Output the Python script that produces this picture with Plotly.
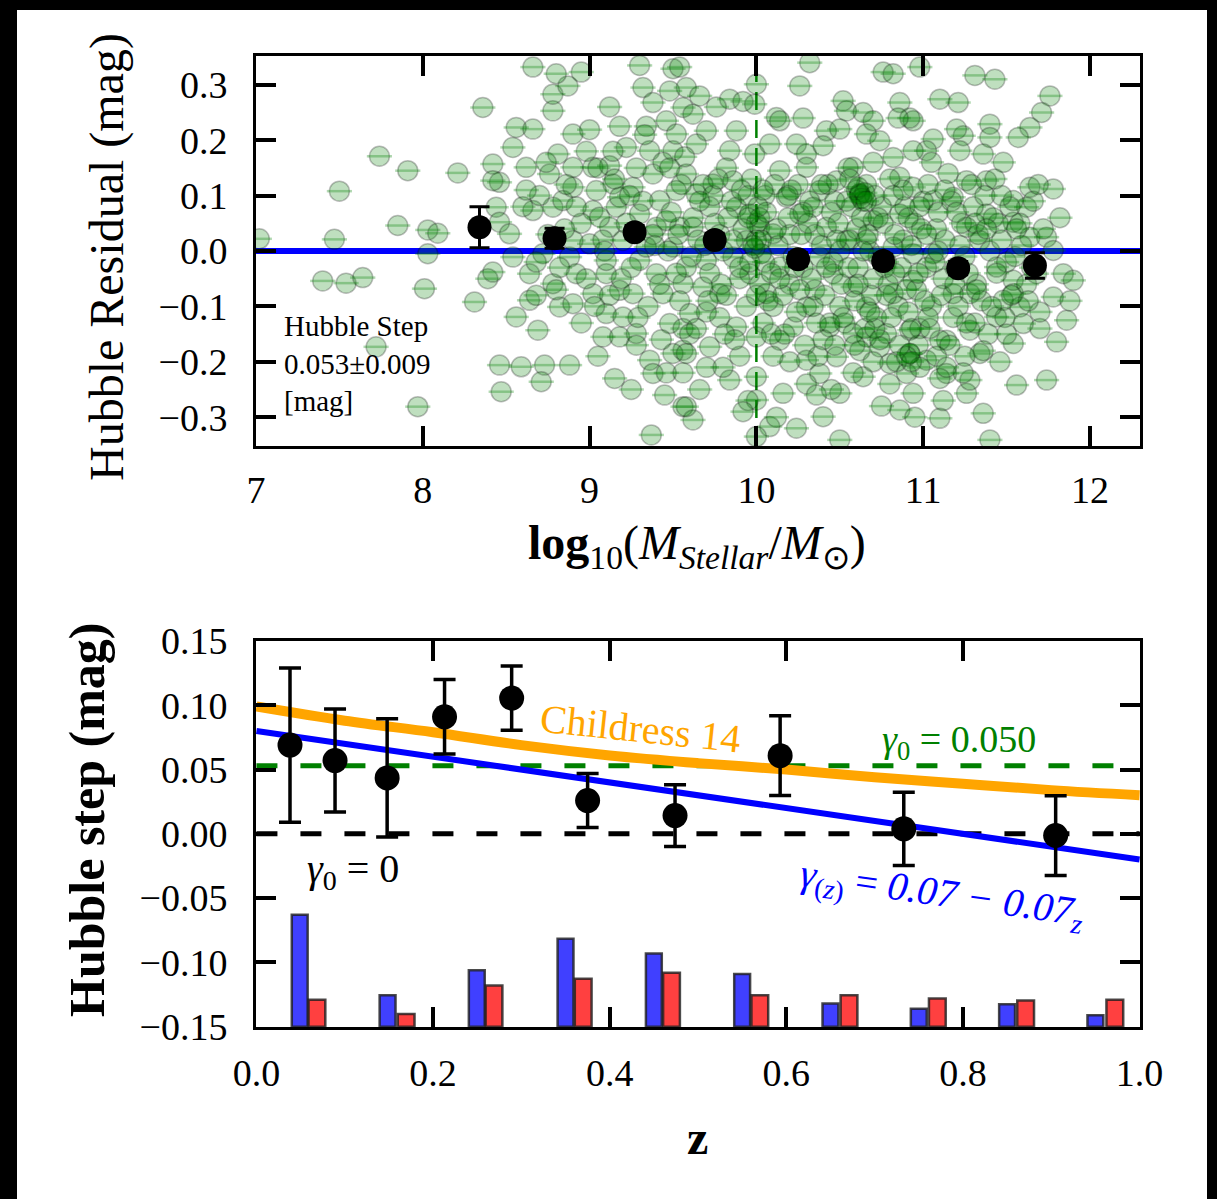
import plotly.graph_objects as go

W, H = 1217, 1199

# ---------------- top panel data: galaxy stellar mass vs Hubble residual ----------------
mass = [
    7.02, 7.50, 7.74, 7.91, 8.21, 8.36, 7.47, 7.85, 8.03, 8.09,
    8.03, 7.40, 7.54, 7.64, 8.01, 8.31, 8.39, 8.42, 8.42, 8.46,
    8.42, 8.44, 8.46, 8.52, 8.54, 8.56, 8.66, 8.54, 8.62, 8.76,
    8.66, 8.78, 8.84, 8.90, 8.81, 8.90, 9.00, 9.18, 9.34, 9.46,
    8.78, 8.78, 8.87, 8.80, 8.95, 8.66, 9.30, 9.32, 9.38, 9.48,
    9.50, 9.12, 9.02, 9.14, 9.38, 9.26, 8.64, 8.56, 8.69, 8.82,
    8.90, 8.78, 8.88, 8.72, 8.64, 8.46, 8.59, 8.73, 8.88, 8.71,
    8.47, 7.97, 7.72, 9.08, 9.18, 9.28, 9.36, 9.38, 9.37, 9.56,
    9.56, 9.10, 9.20, 9.18, 9.10, 9.30, 9.00, 9.12, 9.02, 9.16,
    9.30, 9.42, 9.52, 9.54, 9.50, 9.56, 9.44, 9.48, 8.90, 9.06,
    9.20, 9.40, 9.40, 9.26, 9.02, 8.92, 9.10, 9.34, 9.46, 9.18,
    9.04, 8.90, 9.36, 9.22, 9.50, 9.52, 9.56, 9.28, 9.50, 9.46,
    9.56, 9.54, 9.56,
    9.54, 9.58, 9.84, 9.92, 10.00, 9.99, 10.26, 10.32, 10.12, 10.14,
    10.08, 9.88, 9.70, 9.62, 9.64, 9.84, 9.99, 10.24, 10.30, 10.42,
    10.52, 10.54, 10.64, 10.70, 10.76, 10.82, 10.86, 10.94, 10.98, 11.10,
    11.21, 11.31, 11.43, 11.76, 11.71, 11.64, 11.57, 11.40, 11.40, 11.24,
    11.22, 11.06, 11.02, 10.92, 10.82, 10.94, 10.86, 10.66, 10.74, 11.48,
    11.36, 11.26, 11.38, 11.78, 11.64, 11.62, 11.54, 11.64, 11.74, 11.54,
    11.78, 11.84, 11.90, 11.78, 11.86, 11.80, 11.74, 11.56, 11.70, 11.58,
    11.54, 11.44, 11.34, 11.36, 11.40, 11.10, 11.26, 11.28, 11.14, 11.02,
    10.90, 10.86, 10.94, 10.92, 10.80, 10.64, 10.50, 10.40, 10.50, 10.24,
    10.08, 10.00, 10.00, 10.00, 10.16, 9.84, 9.72, 9.62, 9.58, 9.58,
    9.60, 9.78, 9.88, 10.00, 10.14, 10.30, 10.38, 10.48, 10.66, 10.78,
    10.92, 11.14, 11.28, 11.28, 11.18, 11.44, 11.34, 11.26, 11.38, 11.18,
    11.06, 10.94, 10.86, 10.70, 10.62, 10.62, 10.58, 10.48, 10.38, 10.34,
    10.26, 10.18, 10.14, 10.30, 9.86, 9.74, 9.64, 9.58, 9.88, 9.96,
    10.02, 10.10, 9.94, 9.86, 9.70, 9.62, 9.58, 9.68, 9.96, 10.06,
    10.14, 10.38, 10.46, 10.58, 10.66, 10.82, 10.94, 11.06, 10.94, 10.82,
    10.54, 10.42, 10.30, 10.22, 10.44, 10.58, 10.74, 10.92, 11.10, 11.54,
    11.60, 11.48, 11.54, 11.68,
    9.65, 9.75, 9.80, 9.90, 9.95, 10.05, 10.05, 10.10, 10.20, 10.20,
    10.25, 10.28, 10.35, 10.35, 10.40, 10.45, 10.50, 10.50, 10.55, 10.55,
    10.60, 10.62, 10.66, 10.68, 10.70, 10.72, 10.75, 10.78, 10.80, 10.85,
    10.88, 10.90, 10.95, 10.98, 11.00, 11.02, 11.05, 11.08, 11.12, 11.15,
    11.18, 11.22, 11.25, 11.30, 11.32, 11.40, 11.45, 11.50, 11.10, 10.98,
    10.80, 10.70, 10.45, 10.30, 10.20, 10.10, 9.90, 9.78, 9.70, 9.95,
    10.62, 10.64, 10.60, 9.98, 10.00, 10.02, 9.72, 9.82, 10.40, 10.70,
    11.05, 11.20, 10.85, 10.50, 10.28, 9.76, 9.66,
    9.62, 9.68, 9.72, 9.78, 9.82, 9.85, 9.92, 9.94, 9.97, 10.03,
    10.04, 10.06, 10.09, 10.11, 10.13, 10.16, 10.19, 10.22, 10.24, 10.27,
    10.29, 10.32, 10.33, 10.36, 10.39, 10.41, 10.43, 10.46, 10.47, 10.49,
    10.51, 10.53, 10.56, 10.57, 10.59, 10.61, 10.63, 10.65, 10.67, 10.69,
    10.71, 10.73, 10.74, 10.76, 10.79, 10.81, 10.83, 10.84, 10.87, 10.89,
    10.91, 10.93, 10.96, 10.97, 10.99, 11.01, 11.03, 11.04, 11.07, 11.09,
    11.11, 11.13, 11.16, 11.17, 11.19, 11.21, 11.23, 11.24, 11.27, 11.29,
    11.31, 11.33, 11.35, 11.37, 11.39, 11.42, 11.44, 11.47, 11.49, 11.52,
    11.55, 11.58, 11.62, 11.66, 11.70, 11.72, 11.82, 11.88, 11.46, 11.12,
    10.95, 10.75, 10.58, 10.36, 10.12, 9.92, 9.80, 9.66, 9.60, 9.70,
    8.95, 8.98, 9.05, 9.08, 9.12, 9.15, 9.22, 9.25, 9.28, 9.32,
    9.35, 9.38, 9.42, 9.44, 9.47, 9.49, 9.52, 9.55, 8.85, 8.82,
    8.70, 8.75, 8.60, 8.68, 8.95, 9.05, 9.15, 9.25, 9.45, 9.12,
    10.65, 10.63, 10.61, 10.66, 10.90, 10.93, 10.03, 9.99, 10.02, 10.00,
    9.64, 9.69, 9.74, 9.79, 9.83, 9.87, 9.91, 9.96, 10.01, 10.07,
    10.12, 10.17, 10.21, 10.26, 10.31, 10.37, 10.42, 10.47, 10.52, 10.56,
    10.61, 10.66, 10.71, 10.77, 10.82, 10.86, 10.91, 10.97, 11.02, 11.08,
    11.13, 11.19, 11.25, 11.31, 11.36, 11.41, 11.47, 11.53, 11.59, 11.65,
    9.66, 9.71, 9.77, 9.81, 9.86, 9.90, 9.95, 10.00, 10.04, 10.09,
    10.14, 10.19, 10.23, 10.28, 10.34, 10.39, 10.44, 10.48, 10.54, 10.59,
    10.64, 10.68, 10.73, 10.78, 10.83, 10.88, 10.93, 10.98, 11.03, 11.09,
    11.14, 11.20, 11.26, 11.32, 11.38, 11.43, 11.50, 11.56, 11.63, 11.69,
    8.62, 8.68, 8.74, 8.80, 8.86, 8.92, 8.98, 9.03, 9.09, 9.14,
    9.19, 9.24, 9.29, 9.33, 9.39, 9.43, 9.48, 9.53, 9.57, 9.61,
]
resid = [
    0.022, 0.108, 0.171, 0.145, 0.141, 0.259, 0.021, 0.046, 0.038, 0.032,
    -0.005, -0.054, -0.058, -0.048, -0.068, -0.092, -0.050, -0.038, 0.157, 0.124,
    0.127, 0.079, 0.052, 0.031, -0.011, 0.223, 0.220, 0.187, 0.151, 0.139,
    0.073, 0.079, 0.091, 0.151, 0.175, 0.211, 0.219, 0.225, 0.225, 0.235,
    0.253, 0.283, 0.298, 0.320, 0.323, 0.332, 0.335, 0.295, 0.268, 0.289,
    0.329, 0.154, 0.151, 0.121, 0.139, 0.115, -0.089, -0.119, -0.143, -0.101,
    -0.095, -0.059, -0.011, -0.005, -0.041, -0.206, -0.209, -0.206, -0.206, -0.236,
    -0.254, -0.281, -0.173, -0.155, -0.155, -0.149, -0.197, -0.221, -0.332, -0.281,
    -0.179, -0.113, -0.119, -0.071, -0.041, -0.017, 0.013, 0.043, 0.073, 0.079,
    0.067, 0.091, 0.109, 0.043, 0.007, -0.059, -0.077, -0.131, 0.019, 0.061,
    0.019, 0.043, -0.041, -0.077, -0.077, -0.041, -0.017, 0.007, 0.055, 0.097,
    0.109, 0.115, 0.181, 0.187, 0.181, 0.211, 0.259, -0.170, -0.185, -0.220,
    -0.220, -0.090, -0.140,
    0.332, 0.295, 0.274, 0.270, 0.301, 0.265, 0.298, 0.340, 0.241, 0.235,
    0.193, 0.217, 0.217, 0.247, 0.193, 0.181, 0.175, 0.193, 0.175, 0.217,
    0.271, 0.253, 0.250, 0.235, 0.323, 0.320, 0.268, 0.235, 0.332, 0.274,
    0.268, 0.317, 0.310, 0.280, 0.250, 0.223, 0.205, 0.229, 0.205, 0.208,
    0.181, 0.202, 0.181, 0.240, 0.169, 0.181, 0.133, 0.211, 0.199, 0.160,
    0.175, 0.127, 0.127, 0.112, 0.115, 0.079, 0.052, 0.025, 0.025, 0.091,
    0.001, -0.041, -0.053, -0.083, -0.125, -0.164, -0.233, -0.242, -0.140, -0.101,
    -0.053, -0.119, -0.185, -0.293, -0.341, -0.302, -0.257, -0.233, -0.221, -0.197,
    -0.221, -0.287, -0.257, -0.185, -0.203, -0.227, -0.257, -0.299, -0.341, -0.320,
    -0.317, -0.335, -0.269, -0.227, -0.257, -0.233, -0.173, -0.305, -0.281, -0.185,
    -0.113, -0.077, -0.137, -0.155, -0.161, -0.197, -0.221, -0.191, -0.155, -0.149,
    -0.143, -0.161, -0.143, -0.077, -0.077, -0.029, 0.019, 0.043, 0.067, 0.097,
    0.091, 0.115, 0.067, 0.055, 0.103, 0.103, 0.151, 0.127, 0.109, 0.079,
    0.067, 0.097, 0.145, 0.151, 0.127, 0.121, 0.103, 0.139, 0.079, 0.067,
    0.043, 0.031, 0.019, -0.011, -0.017, 0.043, -0.029, -0.065, -0.041, -0.077,
    -0.029, -0.011, -0.041, -0.065, -0.101, -0.077, -0.053, -0.005, -0.005, 0.007,
    0.019, 0.043, -0.101, -0.137, -0.137, -0.149, -0.173, -0.185, -0.161, -0.167,
    -0.131, -0.089, -0.077, -0.041,
    0.020, 0.050, 0.000, -0.050, 0.100, 0.100, -0.020, -0.100, 0.030, -0.060,
    0.120, -0.030, 0.030, -0.070, -0.160, 0.070, 0.000, -0.100, 0.150, -0.030,
    0.040, -0.180, 0.120, 0.000, -0.050, -0.120, 0.080, -0.020, 0.130, -0.100,
    0.020, -0.070, 0.050, -0.140, 0.090, -0.030, -0.100, 0.040, -0.050, 0.140,
    -0.120, 0.010, -0.190, 0.080, -0.060, 0.000, 0.050, -0.020, -0.230, -0.210,
    -0.240, -0.200, -0.250, -0.240, -0.200, -0.190, -0.190, -0.120, -0.210, -0.270,
    0.100, 0.090, 0.110, 0.010, 0.050, -0.060, 0.080, 0.150, 0.190, 0.160,
    0.160, 0.220, 0.240, 0.220, 0.240, 0.260, 0.280,
    0.06, 0.12, -0.04, 0.03, -0.08, 0.09, 0.04, -0.10, 0.13, 0.02,
    -0.13, 0.07, -0.04, 0.12, 0.01, -0.08, 0.06, -0.01, -0.11, 0.03,
    -0.17, 0.09, -0.05, -0.13, 0.01, -0.08, 0.12, -0.02, -0.17, 0.05,
    -0.06, -0.13, 0.02, 0.08, -0.09, -0.03, 0.06, -0.14, 0.03, -0.08,
    0.10, -0.01, -0.16, 0.05, -0.06, -0.12, 0.03, -0.20, -0.03, 0.08,
    -0.11, 0.01, -0.07, -0.17, 0.04, -0.09, 0.12, -0.14, -0.02, 0.07,
    -0.08, 0.02, -0.17, 0.09, -0.03, -0.10, 0.05, -0.22, -0.04, 0.12,
    -0.13, 0.03, -0.09, 0.10, -0.15, 0.06, -0.04, 0.02, -0.12, 0.08,
    -0.01, 0.05, -0.06, 0.09, -0.11, 0.04, 0.06, -0.09, -0.20, -0.27,
    -0.30, -0.28, -0.22, -0.26, -0.30, -0.29, -0.21, -0.25, -0.15, -0.11,
    0.05, -0.05, 0.15, 0.02, -0.08, 0.13, 0.05, -0.03, 0.15, 0.09,
    -0.10, 0.03, -0.06, 0.16, 0.00, 0.07, -0.04, 0.12, 0.04, -0.03,
    0.10, 0.03, 0.08, -0.08, -0.13, -0.19, -0.23, -0.25, -0.26, 0.26,
    0.105, 0.095, 0.115, 0.090, -0.19, -0.20, -0.005, 0.005, 0.06, 0.02,
    -0.14, 0.01, 0.10, -0.06, 0.06, -0.16, 0.11, -0.02, 0.08, -0.09,
    0.04, -0.15, 0.11, -0.07, 0.05, -0.19, -0.03, 0.09, -0.12, 0.13,
    -0.06, 0.02, -0.14, -0.03, 0.10, -0.17, 0.06, -0.04, 0.03, -0.19,
    0.11, -0.06, -0.01, 0.05, -0.18, -0.10, 0.10, -0.08, 0.01, -0.03,
    0.09, -0.09, 0.13, -0.15, 0.02, -0.03, 0.06, -0.08, 0.11, -0.15,
    -0.05, 0.10, -0.03, 0.07, -0.10, 0.12, -0.13, 0.02, 0.09, -0.17,
    0.00, -0.11, 0.06, -0.08, -0.04, 0.11, -0.14, 0.08, -0.12, 0.00,
    -0.21, 0.07, -0.13, -0.07, 0.04, 0.13, -0.15, 0.04, -0.09, 0.12,
    0.11, -0.02, 0.16, -0.07, 0.12, 0.08, 0.18, -0.10, 0.00, 0.18,
    -0.05, 0.10, -0.12, 0.21, 0.01, -0.16, 0.15, 0.03, 0.17, -0.01,
]

# binned means
bin_mass = [8.34, 8.79, 9.27, 9.75, 10.25, 10.76, 11.21, 11.67]
bin_resid = [0.043, 0.023, 0.034, 0.020, -0.015, -0.018, -0.031, -0.026]
bin_err = [0.037, 0.018, 0.012, 0.012, 0.012, 0.012, 0.012, 0.023]
mass_split = 10.0
zero_level = 0.0

# ---------------- bottom panel data: Hubble step vs redshift ----------------
z_bin = [0.038, 0.089, 0.148, 0.213, 0.289, 0.375, 0.474, 0.593, 0.733, 0.905]
step = [0.069, 0.057, 0.0435, 0.091, 0.1056, 0.0259, 0.0142, 0.0608, 0.0039, -0.0013]
step_err = [0.060, 0.040, 0.046, 0.029, 0.025, 0.021, 0.024, 0.031, 0.0285, 0.031]

z_curve = [0.0, 0.1, 0.2, 0.3, 0.4, 0.5, 0.6, 0.7, 0.8, 0.9, 1.0]
childress = [0.099, 0.088, 0.079, 0.069, 0.061, 0.055, 0.050, 0.044, 0.039, 0.034, 0.030]

z_lin = [0.0, 1.0]
gamma_lin = [0.080, -0.020]
gamma0_const = 0.053

hist_blue_z = [0.049, 0.1485, 0.2495, 0.35, 0.45, 0.55, 0.65, 0.75, 0.85, 0.95]
hist_blue_top = [-0.0629, -0.1255, -0.106, -0.0815, -0.093, -0.109, -0.132, -0.136, -0.1325, -0.141]
hist_red_z = [0.0685, 0.1695, 0.269, 0.37, 0.47, 0.57, 0.671, 0.771, 0.871, 0.972]
hist_red_top = [-0.129, -0.140, -0.118, -0.1126, -0.108, -0.1255, -0.1255, -0.128, -0.1295, -0.129]

top_xticks = [7, 8, 9, 10, 11, 12]
top_yticks = [-0.3, -0.2, -0.1, 0.0, 0.1, 0.2, 0.3]
bot_xticks = [0.0, 0.2, 0.4, 0.6, 0.8, 1.0]
bot_yticks = [-0.15, -0.10, -0.05, 0.0, 0.05, 0.10, 0.15]

TOP_YR = [-0.352, 0.352]
TOP_XR = [7.0, 12.3]
BOT_YR = [-0.1502, 0.1502]
BOT_XR = [-0.0005, 1.0005]
HIST_BASE = -0.15

FONT = "Liberation Serif"


def px(x):
    return x / W


def py(y):
    return 1 - y / H


fig = go.Figure()

# ---- top panel ----
fig.add_trace(go.Scatter(x=TOP_XR, y=[zero_level, zero_level], mode="lines",
                         line=dict(color="#0000ff", width=6), xaxis="x", yaxis="y",
                         showlegend=False, hoverinfo="skip"))
fig.add_trace(go.Scatter(x=[mass_split, mass_split], y=TOP_YR, mode="lines",
                         line=dict(color="#008000", width=2.5, dash="18px,10px"),
                         xaxis="x", yaxis="y", showlegend=False, hoverinfo="skip"))
fig.add_trace(go.Scatter(x=mass, y=resid, mode="markers", xaxis="x", yaxis="y",
                         marker=dict(symbol="circle", size=20, color="rgba(0,128,0,0.25)",
                                     line=dict(color="rgba(0,0,0,0.25)", width=1.5)),
                         showlegend=False))
fig.add_trace(go.Scatter(x=mass, y=resid, mode="markers", xaxis="x", yaxis="y",
                         marker=dict(symbol="line-ew", size=18, color="rgba(0,128,0,0.3)",
                                     line=dict(color="rgba(0,128,0,0.3)", width=2.5)),
                         showlegend=False, hoverinfo="skip"))
fig.add_trace(go.Scatter(x=bin_mass, y=bin_resid, mode="markers", xaxis="x", yaxis="y",
                         marker=dict(size=24, color="black"),
                         error_y=dict(type="data", array=bin_err, color="black",
                                      thickness=3, width=10),
                         showlegend=False))

# ---- bottom panel ----
fig.add_trace(go.Bar(x=hist_blue_z, y=[t - HIST_BASE for t in hist_blue_top], base=HIST_BASE,
                     width=0.018, xaxis="x2", yaxis="y2",
                     marker=dict(color="rgba(0,0,255,0.75)",
                                 line=dict(color="rgba(30,30,30,0.8)", width=2.5)),
                     showlegend=False))
fig.add_trace(go.Bar(x=hist_red_z, y=[t - HIST_BASE for t in hist_red_top], base=HIST_BASE,
                     width=0.019, xaxis="x2", yaxis="y2",
                     marker=dict(color="rgba(255,0,0,0.75)",
                                 line=dict(color="rgba(30,30,30,0.8)", width=2.5)),
                     showlegend=False))
fig.add_trace(go.Scatter(x=[0, 1], y=[0, 0], mode="lines", xaxis="x2", yaxis="y2",
                         line=dict(color="black", width=5, dash="21px,23px"),
                         showlegend=False, hoverinfo="skip"))
fig.add_trace(go.Scatter(x=[0, 0.98], y=[gamma0_const, gamma0_const], mode="lines",
                         xaxis="x2", yaxis="y2",
                         line=dict(color="#008000", width=5, dash="21px,23px"),
                         showlegend=False, hoverinfo="skip"))
fig.add_trace(go.Scatter(x=z_curve, y=childress, mode="lines", xaxis="x2", yaxis="y2",
                         line=dict(color="#ffa500", width=10, shape="spline"),
                         showlegend=False))
fig.add_trace(go.Scatter(x=z_lin, y=gamma_lin, mode="lines", xaxis="x2", yaxis="y2",
                         line=dict(color="#0000ff", width=6), showlegend=False))
fig.add_trace(go.Scatter(x=z_bin, y=step, mode="markers", xaxis="x2", yaxis="y2",
                         marker=dict(size=25, color="black"),
                         error_y=dict(type="data", array=step_err, color="black",
                                      thickness=3.5, width=11),
                         showlegend=False))

axis_common = dict(showline=True, linecolor="black", linewidth=3, mirror="ticks",
                   ticks="inside", ticklen=20, tickwidth=3.5, tickcolor="black",
                   showgrid=False, zeroline=False, automargin=False,
                   tickfont=dict(family=FONT, size=38, color="black"))

xdom = [px(256), px(1140)]
fig.update_layout(
    template="none",
    width=W, height=H,
    margin=dict(l=0, r=0, t=0, b=0, pad=0, autoexpand=False),
    paper_bgcolor="black", plot_bgcolor="white",
    font=dict(family=FONT, color="black"),
    barmode="overlay",
    showlegend=False,
    xaxis=dict(domain=xdom, range=TOP_XR, anchor="y", tickvals=top_xticks,
               ticklabelstandoff=8, **axis_common),
    yaxis=dict(domain=[py(446), py(56)], range=TOP_YR, anchor="x", tickvals=top_yticks,
               tickformat=".1f", ticklabelstandoff=18, **axis_common),
    xaxis2=dict(domain=xdom, range=BOT_XR, anchor="y2", tickvals=bot_xticks,
                tickformat=".1f", ticklabelstandoff=10, **axis_common),
    yaxis2=dict(domain=[py(1027), py(640.7)], range=BOT_YR, anchor="x2", tickvals=bot_yticks,
                tickformat=".2f", ticklabelstandoff=18, **axis_common),
)

# white page on black frame
fig.add_shape(type="rect", xref="paper", yref="paper", x0=px(17), x1=px(1207),
              y0=-0.01, y1=py(10), fillcolor="white", line=dict(width=0), layer="below")


def ann(text, x, y, size, color="black", angle=0, xanchor="center", yanchor="middle",
        align="center"):
    fig.add_annotation(text=text, x=px(x), y=py(y), xref="paper", yref="paper",
                       showarrow=False, textangle=angle, xanchor=xanchor, yanchor=yanchor,
                       align=align, font=dict(family=FONT, size=size, color=color))


ann("Hubble Residual (mag)", 107, 257, 48, angle=-90)
ann("<b>log</b><sub>10</sub>(<i>M</i><sub><i>Stellar</i></sub>/<i>M</i><sub>⊙</sub>)",
    697, 546, 48)
ann("<b>Hubble step (mag)</b>", 87, 820, 50, angle=-90)
ann("<b>z</b>", 697, 1137, 48)

ann("Hubble Step<br>0.053±0.009<br>[mag]", 282, 364, 29, xanchor="left", align="left")

ann("Childress 14", 640, 728, 40, color="#ffa500", angle=6)
ann("<i>γ</i><sub>0</sub> = 0.050", 959, 742, 38, color="#008000")
ann("<i>γ</i><sub>0</sub> = 0", 353, 871, 40, color="black")
ann("<i>γ</i><sub>(<i>z</i>)</sub> = <i>0.07 − 0.07</i><sub><i>z</i></sub>", 942, 895, 40,
    color="#0000ff", angle=8)

fig.write_html("out.html")
